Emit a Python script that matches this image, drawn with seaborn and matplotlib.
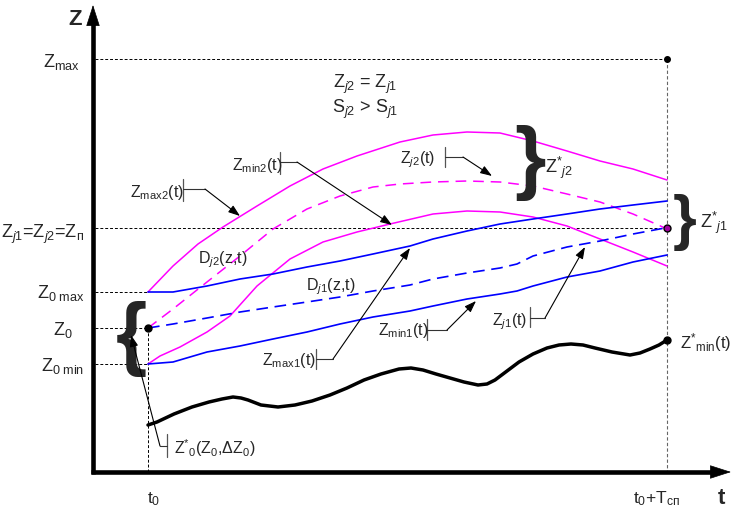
import matplotlib.pyplot as plt
import seaborn as sns

sns.set_style('white')
plt.rcParams['font.family'] = ['Liberation Sans', 'DejaVu Sans']
plt.rcParams['mathtext.fontset'] = 'custom'
plt.rcParams['mathtext.rm'] = 'Liberation Sans'
plt.rcParams['mathtext.it'] = 'Liberation Sans:italic'
plt.rcParams['mathtext.bf'] = 'Liberation Sans:bold'

# curves (t across, z down as on screen)
t_max2 = [148, 173, 198, 223, 257, 290, 323, 357, 400, 433, 467, 500, 533, 567, 600, 633, 667]
z_max2 = [293, 267, 245, 228, 207, 187, 170, 157, 143, 136, 133, 134, 142, 152, 162, 170, 181]

t_j2 = [148, 173, 207, 240, 273, 307, 340, 373, 400, 433, 467, 500, 533, 567, 600, 633, 665]
z_j2 = [329, 310, 283, 257, 230, 210, 197, 188, 185, 183, 182, 183, 187, 195, 203, 215, 229]

t_min2 = [148, 160, 180, 207, 230, 257, 290, 323, 357, 390, 433, 467, 500, 533, 567, 600, 633, 667]
z_min2 = [365, 357, 348, 333, 317, 287, 260, 243, 233, 225, 215, 212, 213, 218, 227, 240, 253, 267]

t_max1 = [148, 173, 207, 240, 273, 307, 340, 373, 410, 433, 467, 500, 533, 567, 600, 633, 667]
z_max1 = [293, 293, 287, 280, 275, 268, 262, 255, 247, 240, 232, 225, 220, 215, 210, 206, 202]

t_j1 = [148, 173, 207, 240, 273, 307, 340, 373, 410, 433, 467, 500, 517, 533, 567, 600, 633, 665]
z_j1 = [329, 325, 319, 313, 308, 303, 298, 292, 286, 280, 274, 269, 265, 257, 248, 242, 235, 229]

t_min1 = [148, 173, 207, 240, 273, 307, 340, 373, 410, 433, 467, 500, 517, 533, 567, 600, 633, 667]
z_min1 = [365, 363, 353, 347, 340, 333, 325, 318, 312, 307, 300, 295, 292, 287, 278, 272, 263, 256]

t_floor = [148, 157, 174, 192, 209, 222, 233, 241, 248, 261, 278, 295, 312, 330, 347, 364, 381, 399,
           411, 423, 436, 450, 464, 478, 487, 495, 507, 519, 533, 547, 559, 571, 583, 595, 612,
           630, 640, 650, 659, 667]
z_floor = [426, 423, 415, 408, 403, 400, 398, 399, 401, 406, 408, 406, 402, 396, 389, 381, 375, 370,
           369, 371, 375, 379, 383, 386, 385, 381, 372, 363, 355, 349, 346, 345, 346, 349, 353,
           356, 354, 350, 346, 341]

# reference levels
z_levels = {'max': 60, 'n': 229, '0max': 293, '0': 329, '0min': 365}
t_marks = {'t0': 148, 'tend': 667}

MAGENTA = '#ff00ff'
BLUE = '#0000ff'

fig = plt.figure(figsize=(7.31, 5.10), dpi=100)
ax = fig.add_axes([0, 0, 1, 1])
ax.set_xlim(0, 731)
ax.set_ylim(510, 0)
ax.axis('off')

# helper dashed guides
guide = dict(color='black', lw=0.7, linestyle=(0, (3, 2)))
t0, te = t_marks['t0'], t_marks['tend']
ax.plot([95, te], [z_levels['max']] * 2, **guide)
ax.plot([95, te], [z_levels['n']] * 2, **guide)
for k in ['0max', '0', '0min']:
    ax.plot([95, t0], [z_levels[k]] * 2, **guide)
ax.plot([t0, t0], [z_levels['0'], 473], **guide)
ax.plot([te, te], [z_levels['max'], 473], color='#666666', lw=0.8, linestyle=(0, (3, 2)))

# curves
kw = dict(ax=ax, estimator=None, errorbar=None, sort=False, solid_joinstyle='round')
sns.lineplot(x=t_max2, y=z_max2, color=MAGENTA, lw=1.1, **kw)
sns.lineplot(x=t_j2, y=z_j2, color=MAGENTA, lw=1.1, linestyle=(0, (7, 4.5)), **kw)
sns.lineplot(x=t_min2, y=z_min2, color=MAGENTA, lw=1.1, **kw)
sns.lineplot(x=t_max1, y=z_max1, color=BLUE, lw=1.2, **kw)
sns.lineplot(x=t_j1, y=z_j1, color=BLUE, lw=1.2, linestyle=(0, (7, 4)), **kw)
sns.lineplot(x=t_min1, y=z_min1, color=BLUE, lw=1.2, **kw)
sns.lineplot(x=t_floor, y=z_floor, color='black', lw=2.5, **kw)

# points
ax.plot([te], [z_levels['max']], 'o', color='black', ms=4)
ax.plot([t0], [z_levels['0']], 'o', color='black', ms=5)
ax.plot([te], [z_levels['n']], 'o', color='#a000a0', mec='black', ms=5)
ax.plot([t_floor[-1]], [z_floor[-1]], 'o', color='black', ms=5)

# axes with arrows
ax.plot([93, 93], [475, 24], color='black', lw=3.3, solid_capstyle='butt')
ax.plot([91, 716], [473, 473], color='black', lw=3.3, solid_capstyle='butt')
head = dict(arrowstyle='-|>,head_length=1.4,head_width=0.45', color='black', lw=0.5,
            mutation_scale=10, shrinkA=0, shrinkB=0)
ax.annotate('', xy=(93, 6), xytext=(93, 40), arrowprops=head)
ax.annotate('', xy=(731, 473), xytext=(700, 473), arrowprops=head)
ax.text(68, 25, 'Z', fontsize=16, fontweight='bold', ha='left', va='baseline')
ax.text(718, 504, 't', fontsize=16, fontweight='bold', ha='left', va='baseline')

# level labels
lab = dict(fontsize=13, va='baseline')
ax.text(80, 67, r'Z$_{\mathrm{max}}$', ha='right', **lab)
ax.text(84, 238, r'Z$_{\mathit{j}\mathrm{1}}$=Z$_{\mathit{j}\mathrm{2}}$=Z$_{\mathrm{п}}$', ha='right', **lab)
ax.text(84, 298, r'Z$_{\mathrm{0\ max}}$', ha='right', **lab)
ax.text(73, 335, r'Z$_{\mathrm{0}}$', ha='right', **lab)
ax.text(84, 371, r'Z$_{\mathrm{0\ min}}$', ha='right', **lab)
ax.text(147, 503, r't$_{\mathrm{0}}$', ha='left', fontsize=12.5, va='baseline')
ax.text(633, 503, r't$_{\mathrm{0}}$+T$_{\mathrm{сп}}$', ha='left', fontsize=12.5, va='baseline')

ax.text(365, 88, r'Z$_{\mathit{j}\mathrm{2}}$ = Z$_{\mathit{j}\mathrm{1}}$', ha='center', **lab)
ax.text(365, 113, r'S$_{\mathit{j}\mathrm{2}}$ > S$_{\mathit{j}\mathrm{1}}$', ha='center', **lab)

# braces
ax.text(131, 339, '{', fontsize=58, fontweight='bold', ha='center', va='center')
ax.text(530, 163, '}', fontsize=58, fontweight='bold', ha='center', va='center')
ax.text(685, 223, '}', fontsize=44, fontweight='bold', ha='center', va='center')
ax.text(545, 173, r'Z$^{*}{}_{\mathit{j}\mathrm{2}}$', ha='left', **lab)
ax.text(700, 228, r'Z$^{*}{}_{\mathit{j}\mathrm{1}}$', ha='left', **lab)
ax.text(680, 348, r'Z$^{*}{}_{\mathrm{min}}$(t)', ha='left', fontsize=12, va='baseline')

# curve labels with leaders
small = dict(fontsize=11.5, va='baseline', ha='left')
ax.text(198, 263, r'D$_{\mathit{j}\mathrm{2}}$(z,t)', **small)
ax.text(306, 290, r'D$_{\mathit{j}\mathrm{1}}$(z,t)', **small)

arrow = dict(arrowstyle='-|>,head_length=0.7,head_width=0.25', color='black', lw=0.8,
             mutation_scale=10, shrinkA=0, shrinkB=0)
leaders = [
    (r'Z$_{\mathrm{max2}}$(t)', 130, 197, 183, 180, 202, 190, 205, (240, 217)),
    (r'Z$_{\mathrm{min2}}$(t)', 232, 170, 280, 153, 175, 163, 297, (392, 226)),
    (r'Z$_{\mathit{j}\mathrm{2}}$(t)', 400, 163, 445, 148, 168, 158, 463, (492, 177)),
    (r'Z$_{\mathrm{min1}}$(t)', 378, 335, 427, 320, 341, 331, 447, (476, 302)),
    (r'Z$_{\mathit{j}\mathrm{1}}$(t)', 492, 325, 530, 308, 328, 319, 545, (585, 248)),
    (r'Z$_{\mathrm{max1}}$(t)', 262, 365, 316, 350, 370, 360, 333, (410, 249)),
]
for text, tx, ty, bx, by0, by1, hy, hx, tip in leaders:
    ax.text(tx, ty, text, **small)
    ax.plot([bx, bx], [by0, by1], color='#555555', lw=0.9)
    ax.plot([bx, hx], [hy, hy], color='#333333', lw=0.8)
    ax.annotate('', xy=tip, xytext=(hx, hy), arrowprops=arrow)

ax.text(174, 454, r'Z$^{*}{}_{\mathrm{0}}$(Z$_{\mathrm{0}}$,ΔZ$_{\mathrm{0}}$)', **small)
ax.plot([167, 167], [435, 458], color='#555555', lw=0.9)
ax.plot([160, 167], [447, 447], color='#333333', lw=0.8)
ax.annotate('', xy=(131, 336), xytext=(160, 447), arrowprops=arrow)

plt.savefig('out.png', dpi=100)
